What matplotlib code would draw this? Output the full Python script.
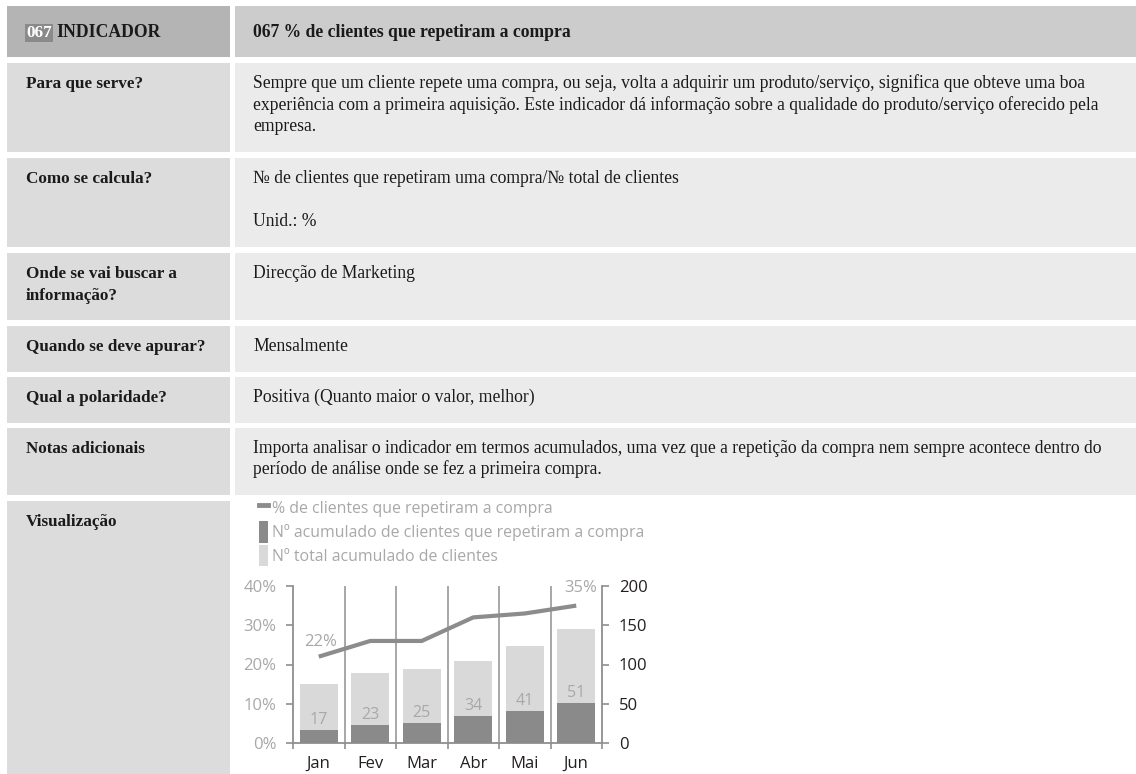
import numpy as np
import matplotlib
matplotlib.use("Agg")
import matplotlib.pyplot as plt
from matplotlib.patches import Rectangle, Patch
from matplotlib.lines import Line2D

W, H = 1136, 774

# table content
code = "067"
header_left = "INDICADOR"
header_right = "067 % de clientes que repetiram a compra"
row_labels = [
    "Para que serve?",
    "Como se calcula?",
    "Onde se vai buscar a\ninformação?",
    "Quando se deve apurar?",
    "Qual a polaridade?",
    "Notas adicionais",
    "Visualização",
]
row_texts = [
    "Sempre que um cliente repete uma compra, ou seja, volta a adquirir um produto/serviço, significa que obteve uma boa\n"
    "experiência com a primeira aquisição. Este indicador dá informação sobre a qualidade do produto/serviço oferecido pela\n"
    "empresa.",
    "№ de clientes que repetiram uma compra/№ total de clientes\n\nUnid.: %",
    "Direcção de Marketing",
    "Mensalmente",
    "Positiva (Quanto maior o valor, melhor)",
    "Importa analisar o indicador em termos acumulados, uma vez que a repetição da compra nem sempre acontece dentro do\n"
    "período de análise onde se fez a primeira compra.",
    "",
]

# chart data
months = ["Jan", "Fev", "Mar", "Abr", "Mai", "Jun"]
pct_repeat = [22, 26, 26, 32, 33, 35]
n_repeat = [17, 23, 25, 34, 41, 51]
n_total = [75, 89, 94, 104, 124, 145]
legend_labels = ["% de clientes que repetiram a compra",
                 "Nº acumulado de clientes que repetiram a compra",
                 "Nº total acumulado de clientes"]

# layout (pixels)
row_top = [63, 158, 253, 326, 377, 428, 501]
row_bot = [152, 247, 320, 372, 423, 495, 774]
col_l, col_m, col_r = 7, 230, 235

serif = ["Liberation Serif", "DejaVu Serif"]
sans = "Open Sans"
fs_lab = 12.3   # left column (bold)
fs_txt = 12.7   # right column
line_h = 21.5

fig = plt.figure(figsize=(W / 100, H / 100), dpi=100)
bg = fig.add_axes([0, 0, 1, 1])
bg.set_xlim(0, W)
bg.set_ylim(H, 0)
bg.axis("off")

# header row
bg.add_patch(Rectangle((col_l, 6), col_m - col_l, 51, color="#b4b4b4", lw=0))
bg.add_patch(Rectangle((col_r, 6), W - col_r, 51, color="#cccccc", lw=0))
bg.text(26, 37, code, family=serif, fontsize=fs_lab, fontweight="bold", color="white",
        bbox=dict(boxstyle="square,pad=0.08", fc="#8a8a8a", ec="none"))
bg.text(56, 37, header_left, family=serif, fontsize=fs_txt, fontweight="bold", color="#1a1a1a")
bg.text(253, 37, header_right, family=serif, fontsize=fs_txt, fontweight="bold", color="#1a1a1a")

# body rows
for i, (lab, txt) in enumerate(zip(row_labels, row_texts)):
    top, bot = row_top[i], row_bot[i]
    bg.add_patch(Rectangle((col_l, top), col_m - col_l, bot - top, color="#dcdcdc", lw=0))
    if i < len(row_labels) - 1:
        bg.add_patch(Rectangle((col_r, top), W - col_r, bot - top, color="#ebebeb", lw=0))
    for j, s in enumerate(lab.split("\n")):
        bg.text(26, top + 25 + j * line_h, s, family=serif, fontsize=fs_lab,
                fontweight="bold", color="#1a1a1a")
    for j, s in enumerate(txt.split("\n")):
        bg.text(253, top + 25 + j * line_h, s, family=serif, fontsize=fs_txt, color="#1a1a1a")

# chart
ax = fig.add_axes([293 / W, (H - 743) / H, 309 / W, 157 / H])
ax2 = ax.twinx()
x = np.arange(len(months))
gray_axis = "#8f8f8f"
lab_gray = "#a8a8a8"

for b in np.arange(0.5, len(months) - 0.5, 1):
    ax.axvline(b, color="#a0a0a0", lw=1.3, zorder=1)
ax.bar(x, n_total, width=0.74, color="#d9d9d9", zorder=2)
ax.bar(x, n_repeat, width=0.74, color="#8a8a8a", zorder=3)
for xi, v in zip(x, n_repeat):
    ax.annotate(str(v), (xi, v), xytext=(0, 2), textcoords="offset pixels",
                ha="center", va="bottom", color=lab_gray, fontsize=11.5, family=sans)
ax.set_xlim(-0.5, len(months) - 0.5)
ax.set_ylim(0, 200)
ax.set_yticks([0, 50, 100, 150, 200])
ax.yaxis.tick_right()
ax.tick_params(axis="y", colors=gray_axis, labelcolor="#231f20", labelsize=12,
               length=5, width=1.2, pad=7)
ax.set_xticks(x)
ax.set_xticklabels(months, family=sans)
ax.set_xticks(np.arange(-0.5, len(months), 1), minor=True)
ax.tick_params(axis="x", which="major", length=0, pad=9.5, labelsize=12, labelcolor="#231f20")
ax.tick_params(axis="x", which="minor", length=4, width=1.2, color=gray_axis)
for lbl in ax.get_yticklabels():
    lbl.set_family(sans)
ax.spines["top"].set_visible(False)
for sp in ["left", "right", "bottom"]:
    ax.spines[sp].set_color(gray_axis)
    ax.spines[sp].set_linewidth(1.3)

ax2.plot(x, pct_repeat, color="#8c8c8c", lw=3, solid_capstyle="butt", zorder=5)
ax2.set_ylim(0, 40)
ax2.set_yticks([0, 10, 20, 30, 40])
ax2.set_yticklabels([f"{v}%" for v in [0, 10, 20, 30, 40]], family=sans)
ax2.yaxis.tick_left()
ax2.tick_params(axis="y", colors=gray_axis, labelcolor=lab_gray, labelsize=12,
                length=5, width=1.2, pad=7)
for sp in ax2.spines.values():
    sp.set_visible(False)
ax2.annotate(f"{pct_repeat[0]}%", (x[0], pct_repeat[0]), xytext=(2, 7), textcoords="offset pixels",
             ha="center", va="bottom", color=lab_gray, fontsize=12, family=sans)
ax2.annotate(f"{pct_repeat[-1]}%", (x[-1], pct_repeat[-1]), xytext=(4, 10), textcoords="offset pixels",
             ha="center", va="bottom", color=lab_gray, fontsize=12, family=sans)

handles = [Line2D([], [], color="#8c8c8c", lw=3.5),
           Patch(color="#8a8a8a", lw=0),
           Patch(color="#d9d9d9", lw=0)]
fig.legend(handles, legend_labels, loc="upper left", bbox_to_anchor=(259 / W, 1 - 497 / H),
           frameon=False, handlelength=0.55, handleheight=1.75,
           handletextpad=0.25, labelspacing=0.12, borderpad=0, borderaxespad=0,
           labelcolor=lab_gray, prop={"family": sans, "size": 11.4})

fig.savefig("out.png", dpi=100)
